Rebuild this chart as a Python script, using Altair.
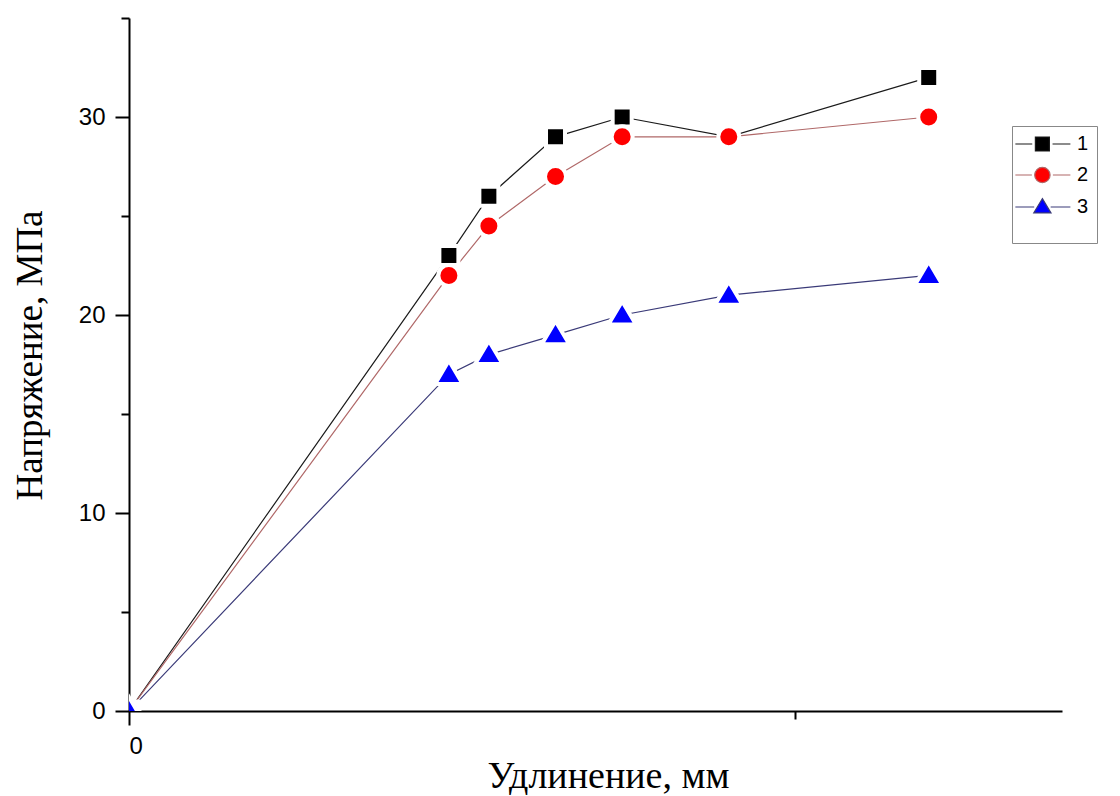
import altair as alt
import pandas as pd

# ---- data ----
x_vals = [0, 0.48, 0.54, 0.64, 0.74, 0.9, 1.2]
series_names = ["1", "2", "3"]
stress_1 = [0, 23, 26, 29, 30, 29, 32]
stress_2 = [0, 22, 24.5, 27, 29, 29, 30]
stress_3 = [0, 17, 18, 19, 20, 21, 22]

marker_colors = ["#000000", "#ff0000", "#0000ff"]
line_colors = ["#1a1a1a", "#b06868", "#3a3a78"]

# plot markers (unit = sqrt(400)/2 = 10 px); white outline gives the gap to the lines
marker_shapes = [
    "M-0.95,-0.95H0.95V0.95H-0.95Z",
    "M-1.05,0A1.05,1.05,0,1,1,1.05,0A1.05,1.05,0,1,1,-1.05,0Z",
    "M0,-1.38L1.38,0.95L-1.38,0.95Z",
]

# legend symbols: line with a gap + marker (unit = sqrt(196)/2 = 7 px)
legend_shapes = [
    "M-2.09,0H0.32M3.22,0H5.77M0.77,-1H2.77V1H0.77Z",
    "M-2.09,0H0.27M3.27,0H5.77M0.67,0A1.1,1.1,0,1,1,2.87,0A1.1,1.1,0,1,1,0.67,0Z",
    "M-2.09,0H0.6M2.95,0H5.77M1.77,-1.2L3.0,0.85L0.54,0.85Z",
]

rows = []
for name, ys in zip(series_names, [stress_1, stress_2, stress_3]):
    for xv, yv in zip(x_vals, ys):
        rows.append({"x": xv, "y": yv, "series": name})
df = pd.DataFrame(rows)

x_enc = alt.X(
    "x:Q",
    scale=alt.Scale(domain=[0, 1.4], nice=False, zero=True),
    axis=alt.Axis(
        values=[0, 1],
        labelExpr="datum.value == 0 ? '0' : ''",
        title="Удлинение, мм",
        tickSize={"condition": {"test": "datum.value == 0", "value": 14}, "value": 8},
        labelPadding=9,
        titleX=479,
        titleY=76,
        titleBaseline="alphabetic",
    ),
)
y_enc = alt.Y(
    "y:Q",
    scale=alt.Scale(domain=[0, 35], nice=False, zero=True),
    axis=alt.Axis(
        values=[0, 5, 10, 15, 20, 25, 30, 35],
        labelExpr="datum.value % 10 == 0 ? datum.label : ''",
        title="Напряжение, МПа",
        tickSize={"condition": {"test": "datum.value % 10 == 0", "value": 14}, "value": 8},
        labelPadding=10,
        titleX=-88,
        titleY=337,
        titleFontSize=37,
        titleBaseline="alphabetic",
    ),
)

base = alt.Chart(df)

lines = base.mark_line(strokeWidth=1.2, clip=True).encode(
    x=x_enc,
    y=y_enc,
    color=alt.Color("series:N", scale=alt.Scale(domain=series_names, range=line_colors), legend=None),
    detail="series:N",
)

points = base.mark_point(
    filled=True, opacity=1, size=400, stroke="white", strokeWidth=4, strokeOpacity=1, clip=True
).encode(
    x="x:Q",
    y="y:Q",
    fill=alt.Fill("series:N", scale=alt.Scale(domain=series_names, range=marker_colors), legend=None),
    shape=alt.Shape("series:N", scale=alt.Scale(domain=series_names, range=marker_shapes), legend=None),
)

leg = dict(
    orient="none",
    legendX=883,
    legendY=108,
    title="\u00a0",
    titleOrient="bottom",
    titleFontSize=16,
    titlePadding=2,
    padding=8,
    rowPadding=10,
    symbolSize=196,
    symbolStrokeWidth=1.2,
    symbolOpacity=1,
    labelOffset=37,
    labelFont="Liberation Sans",
    labelFontSize=20,
    labelColor="black",
    strokeColor="#888888",
    fillColor="white",
    cornerRadius=0,
)

legend_layer = base.mark_point(filled=True, opacity=0).encode(
    x="x:Q",
    y="y:Q",
    fill=alt.Fill("series:N", scale=alt.Scale(domain=series_names, range=marker_colors), legend=alt.Legend(**leg)),
    stroke=alt.Stroke("series:N", scale=alt.Scale(domain=series_names, range=line_colors), legend=alt.Legend(**leg)),
    shape=alt.Shape("series:N", scale=alt.Scale(domain=series_names, range=legend_shapes), legend=alt.Legend(**leg)),
)

chart = (
    alt.layer(lines, points, legend_layer)
    .resolve_scale(color="independent", fill="independent", stroke="independent", shape="independent")
    .properties(
        width=933,
        height=693,
        autosize=alt.AutoSizeParams(type="none"),
        padding={"left": 121, "top": 10, "right": 50, "bottom": 84},
        background="white",
    )
    .configure_view(stroke=None)
    .configure_axis(
        grid=False,
        domainColor="black",
        domainWidth=2,
        tickColor="black",
        tickWidth=2,
        labelFont="Liberation Sans",
        labelFontSize=24,
        labelColor="black",
        titleFont="Liberation Serif",
        titleFontSize=38,
        titleFontWeight="normal",
        titleColor="black",
    )
)

chart.save("out.html", embed_options={"renderer": "svg", "actions": False})
